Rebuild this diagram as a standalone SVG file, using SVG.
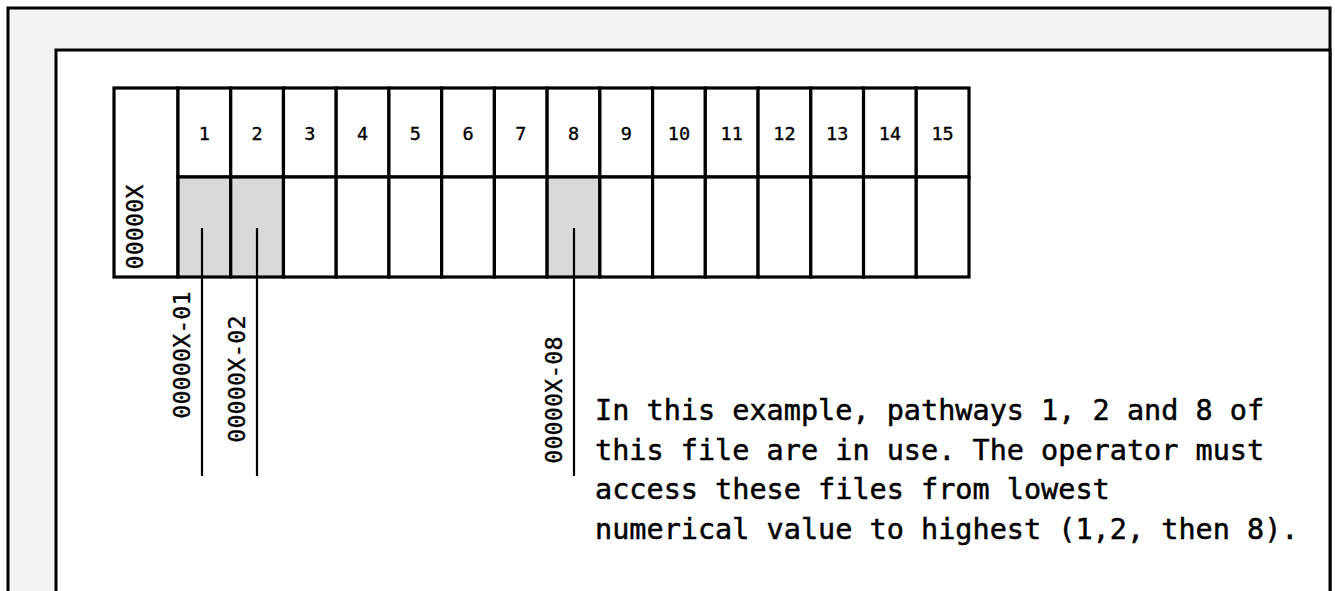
<svg xmlns="http://www.w3.org/2000/svg" width="1335" height="591" viewBox="0 0 1335 591">
  <style>
    .frame { fill: #f2f2f2; stroke: #000; stroke-width: 3; }
    .page { fill: #fff; stroke: #000; stroke-width: 3; }
    .cell { fill: #fff; stroke: #000; stroke-width: 3.2; }
    .used { fill: #d9d9d9; stroke: #000; stroke-width: 3.2; }
    .mono { font-family: "DejaVu Sans Mono", "Liberation Mono", monospace; fill: #000; stroke: #000; stroke-width: 0.35; }
    .num { font-size: 18.5px; text-anchor: middle; }
    .tag { font-size: 23.5px; text-anchor: middle; }
    .note { font-size: 28.5px; stroke-width: 0.5; }
    .link { stroke: #000; stroke-width: 2.2; fill: none; }
  </style>

  <!-- outer frame and page -->
  <rect class="frame" x="8" y="8" width="1322" height="600"/>
  <rect class="page" x="56" y="50" width="1274" height="560"/>

  <!-- pathway table -->
  <g id="table">
    <rect class="cell" x="114" y="88" width="64" height="189"/>
    <text class="mono tag" transform="translate(143,227) rotate(-90)">00000X</text>
  </g>

  <g id="pathway-header">
    <rect class="cell" x="178" y="88" width="52.73" height="89"/>
    <rect class="cell" x="230.73" y="88" width="52.73" height="89"/>
    <rect class="cell" x="283.47" y="88" width="52.73" height="89"/>
    <rect class="cell" x="336.2" y="88" width="52.73" height="89"/>
    <rect class="cell" x="388.93" y="88" width="52.73" height="89"/>
    <rect class="cell" x="441.67" y="88" width="52.73" height="89"/>
    <rect class="cell" x="494.4" y="88" width="52.73" height="89"/>
    <rect class="cell" x="547.13" y="88" width="52.73" height="89"/>
    <rect class="cell" x="599.87" y="88" width="52.73" height="89"/>
    <rect class="cell" x="652.6" y="88" width="52.73" height="89"/>
    <rect class="cell" x="705.33" y="88" width="52.73" height="89"/>
    <rect class="cell" x="758.07" y="88" width="52.73" height="89"/>
    <rect class="cell" x="810.8" y="88" width="52.73" height="89"/>
    <rect class="cell" x="863.53" y="88" width="52.73" height="89"/>
    <rect class="cell" x="916.27" y="88" width="52.73" height="89"/>
    <text class="mono num" x="204.4" y="140">1</text>
    <text class="mono num" x="257.1" y="140">2</text>
    <text class="mono num" x="309.8" y="140">3</text>
    <text class="mono num" x="362.6" y="140">4</text>
    <text class="mono num" x="415.3" y="140">5</text>
    <text class="mono num" x="468" y="140">6</text>
    <text class="mono num" x="520.8" y="140">7</text>
    <text class="mono num" x="573.5" y="140">8</text>
    <text class="mono num" x="626.2" y="140">9</text>
    <text class="mono num" x="679" y="140">10</text>
    <text class="mono num" x="731.7" y="140">11</text>
    <text class="mono num" x="784.4" y="140">12</text>
    <text class="mono num" x="837.2" y="140">13</text>
    <text class="mono num" x="889.9" y="140">14</text>
    <text class="mono num" x="942.6" y="140">15</text>
  </g>

  <g id="pathway-slots">
    <rect class="used" x="178" y="177" width="52.73" height="100"/>
    <rect class="used" x="230.73" y="177" width="52.73" height="100"/>
    <rect class="cell" x="283.47" y="177" width="52.73" height="100"/>
    <rect class="cell" x="336.2" y="177" width="52.73" height="100"/>
    <rect class="cell" x="388.93" y="177" width="52.73" height="100"/>
    <rect class="cell" x="441.67" y="177" width="52.73" height="100"/>
    <rect class="cell" x="494.4" y="177" width="52.73" height="100"/>
    <rect class="used" x="547.13" y="177" width="52.73" height="100"/>
    <rect class="cell" x="599.87" y="177" width="52.73" height="100"/>
    <rect class="cell" x="652.6" y="177" width="52.73" height="100"/>
    <rect class="cell" x="705.33" y="177" width="52.73" height="100"/>
    <rect class="cell" x="758.07" y="177" width="52.73" height="100"/>
    <rect class="cell" x="810.8" y="177" width="52.73" height="100"/>
    <rect class="cell" x="863.53" y="177" width="52.73" height="100"/>
    <rect class="cell" x="916.27" y="177" width="52.73" height="100"/>
  </g>

  <!-- leader lines from the used slots -->
  <g id="connectors">
    <line class="link" x1="202" y1="228" x2="202" y2="476"/>
    <line class="link" x1="257" y1="228" x2="257" y2="476"/>
    <line class="link" x1="574" y1="228" x2="574" y2="476"/>
  </g>

  <g id="label-01">
    <text class="mono tag" transform="translate(190,355) rotate(-90)">00000X-01</text>
  </g>
  <g id="label-02">
    <text class="mono tag" transform="translate(245,379) rotate(-90)">00000X-02</text>
  </g>
  <g id="label-08">
    <text class="mono tag" transform="translate(562,400) rotate(-90)">00000X-08</text>
  </g>

  <g id="note">
    <text class="mono note" x="595" y="420">In this example, pathways 1, 2 and 8 of</text>
    <text class="mono note" x="595" y="459.5">this file are in use. The operator must</text>
    <text class="mono note" x="595" y="499">access these files from lowest</text>
    <text class="mono note" x="595" y="538.5">numerical value to highest (1,2, then 8).</text>
  </g>
</svg>
